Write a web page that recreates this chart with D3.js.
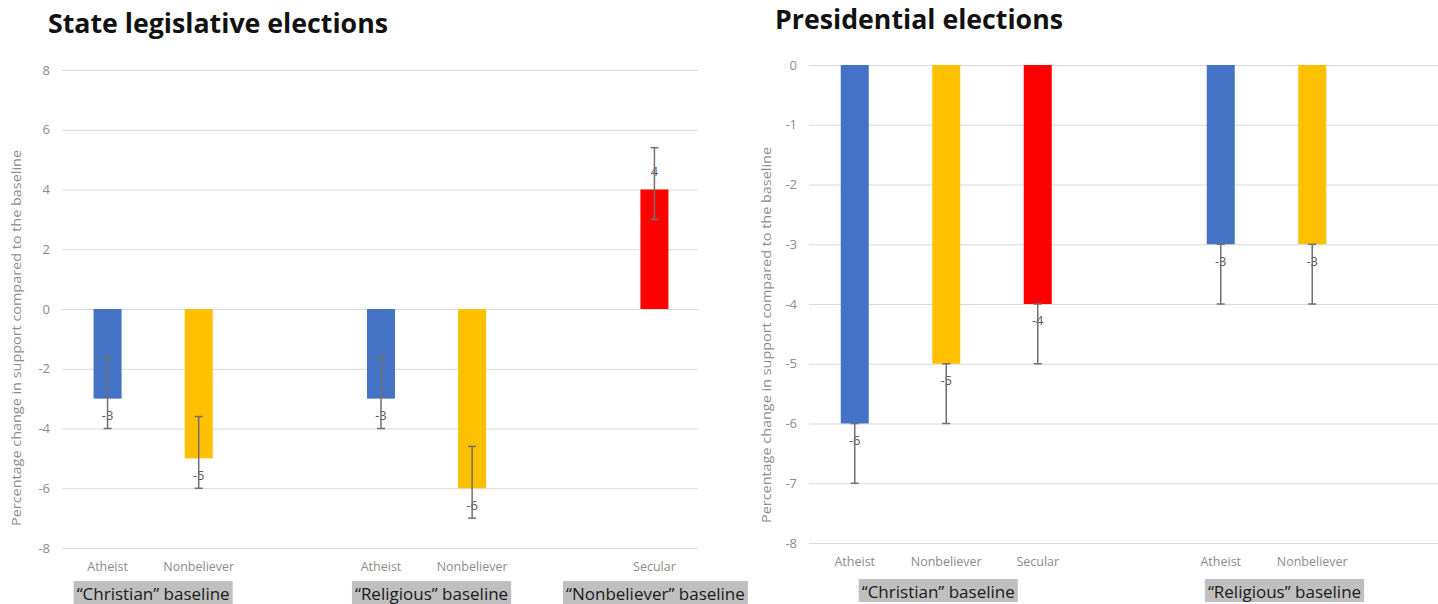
<!DOCTYPE html>
<html>
<head>
<meta charset="utf-8">
<script src="https://cdn.jsdelivr.net/npm/d3@7"></script>
<style>
  html, body { margin: 0; padding: 0; background: #fff; }
  svg { display: block; font-family: "Open Sans", "Noto Sans", sans-serif; }
</style>
</head>
<body>
<svg id="chart" width="1438" height="604"></svg>
<script>
// ---- State legislative elections ----
const stateLabels   = ["Atheist", "Nonbeliever", "", "Atheist", "Nonbeliever", "", "Secular"];
const stateValues   = [-3, -5, null, -3, -6, null, 4];
const stateErrHigh  = [-1.6, -3.6, null, -1.6, -4.6, null, 5.4];
const stateErrLow   = [-4, -6, null, -4, -7, null, 3];
const stateTicks    = [-8, -6, -4, -2, 0, 2, 4, 6, 8];
const stateGroups   = ["\u201cChristian\u201d baseline", "\u201cReligious\u201d baseline", "\u201cNonbeliever\u201d baseline"];
const stateGroupIdx = [[0, 1], [3, 4], [6]];

// ---- Presidential elections ----
const presLabels    = ["Atheist", "Nonbeliever", "Secular", "", "Atheist", "Nonbeliever", ""];
const presValues    = [-6, -5, -4, null, -3, -3, null];
const presErrHigh   = [-6, -5, -4, null, -3, -3, null];
const presErrLow    = [-7, -6, -5, null, -4, -4, null];
const presTicks     = [-8, -7, -6, -5, -4, -3, -2, -1, 0];
const presGroups    = ["\u201cChristian\u201d baseline", "\u201cReligious\u201d baseline"];
const presGroupIdx  = [[0, 1, 2], [4, 5]];

const yTitle = "Percentage change in support compared to the baseline";

const colorFor = d3.scaleOrdinal()
  .domain(["Atheist", "Nonbeliever", "Secular"])
  .range(["#4472c4", "#ffc000", "#ff0000"]);

// integers with a plain hyphen-minus, as spreadsheet charts print them
const fmt = d3.formatLocale({ decimal: ".", thousands: ",", grouping: [3], currency: ["", ""], minus: "-" }).format("d");

const svg = d3.select("#chart");

function drawPanel(p) {
  const g = svg.append("g");
  const idx = d3.range(p.labels.length);

  const x = d3.scaleBand().domain(idx).range(p.xRange).paddingInner(0).paddingOuter(0);
  const y = d3.scaleLinear().domain(p.yDomain).range(p.yRange);
  const barW = 28;

  // title
  g.append("text")
    .attr("x", p.title.x).attr("y", p.title.y)
    .attr("font-size", 26).attr("font-weight", 700).attr("fill", "#111")
    .attr("textLength", p.title.len).attr("lengthAdjust", "spacingAndGlyphs")
    .text(p.title.text);

  // gridlines + tick labels via axis
  const axis = d3.axisLeft(y).tickValues(p.ticks).tickFormat(fmt)
    .tickSize(-(p.gridEnd - p.xRange[0])).tickPadding(12);
  const ax = g.append("g").attr("transform", `translate(${p.xRange[0]},0)`).call(axis);
  ax.select(".domain").remove();
  ax.selectAll(".tick line").attr("stroke", "#d9d9d9").attr("stroke-width", 1.2);
  ax.selectAll(".tick text").attr("fill", "#8c8c8c").attr("font-size", 13)
    .attr("font-family", "\"Open Sans\", sans-serif");

  // y-axis title
  g.append("text")
    .attr("transform", `translate(${p.yTitleX},${p.yTitleY}) rotate(-90)`)
    .attr("text-anchor", "middle").attr("dominant-baseline", "middle")
    .attr("font-size", 13).attr("fill", "#8c8c8c")
    .attr("textLength", 376).attr("lengthAdjust", "spacingAndGlyphs")
    .text(yTitle);

  const items = idx.filter(i => p.values[i] !== null);

  // bars
  g.selectAll("rect.bar").data(items).join("rect").attr("class", "bar")
    .attr("x", i => x(i) + x.bandwidth() / 2 - barW / 2)
    .attr("width", barW)
    .attr("y", i => y(Math.max(0, p.values[i])))
    .attr("height", i => Math.abs(y(p.values[i]) - y(0)))
    .attr("fill", i => colorFor(p.labels[i]));

  // value labels
  g.selectAll("text.val").data(items).join("text").attr("class", "val")
    .attr("x", i => x(i) + x.bandwidth() / 2)
    .attr("y", i => y(p.values[i]) + (p.values[i] < 0 ? 18 : -17))
    .attr("text-anchor", "middle").attr("dominant-baseline", "middle")
    .attr("font-size", 13).attr("fill", "#595959")
    .text(i => fmt(p.values[i]));

  // error bars
  const eb = g.selectAll("g.err").data(items).join("g").attr("class", "err")
    .attr("stroke", "#707070").attr("stroke-width", 1.5);
  eb.append("line")
    .attr("x1", i => x(i) + x.bandwidth() / 2).attr("x2", i => x(i) + x.bandwidth() / 2)
    .attr("y1", i => y(p.errHigh[i])).attr("y2", i => y(p.errLow[i]));
  ["errHigh", "errLow"].forEach(k => {
    eb.append("line")
      .attr("x1", i => x(i) + x.bandwidth() / 2 - 4).attr("x2", i => x(i) + x.bandwidth() / 2 + 4)
      .attr("y1", i => y(p[k][i])).attr("y2", i => y(p[k][i]));
  });

  // category labels
  g.selectAll("text.cat").data(items).join("text").attr("class", "cat")
    .attr("x", i => x(i) + x.bandwidth() / 2).attr("y", p.catY)
    .attr("text-anchor", "middle").attr("font-size", 12.5).attr("fill", "#8c8c8c")
    .text(i => p.labels[i]);

  // group labels on shaded boxes
  p.groups.forEach((name, k) => {
    const members = p.groupIdx[k];
    const cx = d3.mean(members, i => x(i) + x.bandwidth() / 2) + p.groupShift[k];
    const gg = g.append("g");
    const t = gg.append("text")
      .attr("x", cx).attr("y", p.groupY)
      .attr("text-anchor", "middle").attr("font-size", 17).attr("fill", "#1a1a1a")
      .attr("font-family", "\"Open Sans\", sans-serif")
      .text(name);
    const bb = t.node().getBBox();
    gg.insert("rect", "text")
      .attr("x", bb.x - 3).attr("width", bb.width + 6)
      .attr("y", p.groupY - 19).attr("height", 23)
      .attr("fill", "#bfbfbf");
  });
}

drawPanel({
  title: { text: "State legislative elections", x: 48, y: 33, len: 340 },
  labels: stateLabels, values: stateValues, errHigh: stateErrHigh, errLow: stateErrLow,
  ticks: stateTicks, yDomain: [-8, 8], yRange: [548, 70],
  xRange: [62, 700], gridEnd: 698,
  yTitleX: 18, yTitleY: 338, catY: 571,
  groups: stateGroups, groupIdx: stateGroupIdx, groupShift: [0, 5, 1], groupY: 600
});

drawPanel({
  title: { text: "Presidential elections", x: 775, y: 29, len: 288 },
  labels: presLabels, values: presValues, errHigh: presErrHigh, errLow: presErrLow,
  ticks: presTicks, yDomain: [-8, 0], yRange: [543, 65],
  xRange: [809, 1449.5], gridEnd: 1449.5,
  yTitleX: 768, yTitleY: 335, catY: 566,
  groups: presGroups, groupIdx: presGroupIdx, groupShift: [-8, 18], groupY: 598
});
</script>
</body>
</html>
